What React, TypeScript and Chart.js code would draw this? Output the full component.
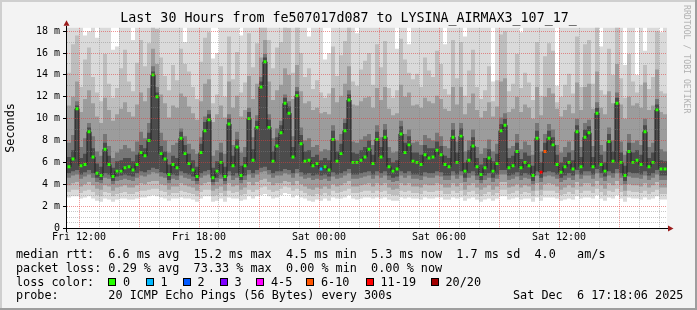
import React, { useEffect, useRef } from 'react';
import { Chart, registerables } from 'chart.js';

Chart.register(...registerables);

const FONT = '"DejaVu Sans Mono", "Liberation Mono", monospace';

const TITLE = 'Last 30 Hours from fe507017d087 to LYSINA_AIRMAX3_107_17_';
const Y_TITLE = 'Seconds';

// time axis: hours since the left edge of the plot (Fri 11:24)
const STEP_HOURS = 0.2;
const X_MIN = 0;
const X_MAX = 30;
const X_GRID_HOURS = [0.6, 1.6, 2.6, 3.6, 4.6, 5.6, 6.6, 7.6, 8.6, 9.6, 10.6, 11.6, 12.6, 13.6, 14.6, 15.6, 16.6, 17.6, 18.6, 19.6, 20.6, 21.6, 22.6, 23.6, 24.6, 25.6, 26.6, 27.6, 28.6, 29.6];
const X_LABEL_TEXT = ['Fri 12:00', 'Fri 18:00', 'Sat 00:00', 'Sat 06:00', 'Sat 12:00'];

// value axis (milliseconds)
const Y_MAX = 18.3;
const Y_GRID = [0, 0.5, 1, 1.5, 2, 3, 4, 5, 6, 7, 8, 9, 10, 11, 12, 13, 14, 15, 16, 17, 18];
const Y_LABEL_VALUES = [0, 2, 4, 6, 8, 10, 12, 14, 16, 18];
const Y_LABEL_TEXT = ['0', '2 m', '4 m', '6 m', '8 m', '10 m', '12 m', '14 m', '16 m', '18 m'];

// median rtt per 12-minute column (ms)
const MEDIAN = [
  5.6, 6.3, 10.9, 5.7, 5.8, 8.8, 6.5, 5.0, 4.8, 7.2, 5.8, 4.7, 5.2, 5.2, 5.5, 5.6, 5.3, 5.8, 6.9, 6.6, 8.0, 14.0, 12.0, 6.8, 6.3,
  4.9, 5.8, 5.5, 8.2, 6.8, 5.9, 5.3, 4.7, 6.9, 8.9, 9.9, 4.6, 5.2, 6.0, 4.7, 9.5, 5.7, 7.4, 4.8, 5.7, 10.0, 6.2, 9.2, 12.9, 15.2,
  9.2, 6.1, 7.5, 8.7, 11.4, 10.5, 6.5, 12.1, 7.7, 6.1, 6.2, 5.7, 5.9, 5.4, 5.6, 5.3, 8.1, 6.1, 6.8, 8.9, 11.7, 6.0, 6.0, 6.2, 6.5,
  7.2, 5.9, 8.1, 6.5, 8.3, 5.6, 5.2, 5.4, 8.6, 6.9, 7.6, 6.1, 6.0, 5.8, 6.7, 6.4, 6.5, 7.1, 6.7, 5.8, 5.6, 8.3, 6.0, 8.4, 5.2,
  6.2, 7.5, 5.6, 4.9, 5.5, 6.4, 5.2, 5.9, 8.9, 9.4, 5.5, 5.7, 7.0, 5.5, 6.0, 5.7, 4.8, 8.2, 5.1, 7.0, 8.2, 7.6, 5.8, 5.1, 5.6,
  6.0, 5.4, 8.8, 5.6, 8.3, 8.7, 5.6, 10.5, 5.8, 5.2, 7.9, 6.1, 11.4, 6.0, 4.8, 7.0, 6.0, 6.2, 5.8, 8.8, 5.6, 6.0, 10.8, 5.4, 5.4,
];

// smoke: spread of the 20 pings per column, outermost to innermost
const SMOKE_MAX = [
  18.5, 18.5, 18.5, 18.5, 17.6, 18.0, 18.5, 17.4, 18.5, 18.5, 18.5, 16.3, 16.6, 18.5, 18.5, 18.5, 17.2, 18.5, 18.5, 18.5, 18.5, 18.5, 18.5, 18.5, 18.5,
  18.5, 18.5, 18.5, 18.5, 17.0, 18.5, 18.5, 18.5, 18.5, 18.5, 18.5, 15.5, 16.0, 18.5, 18.5, 18.5, 18.5, 18.5, 17.6, 18.5, 18.5, 18.5, 18.5, 18.5, 18.5,
  18.5, 18.5, 18.5, 18.5, 18.5, 18.5, 18.5, 18.5, 18.5, 18.5, 17.5, 18.5, 18.5, 18.5, 15.4, 16.0, 18.5, 18.5, 18.5, 18.5, 18.5, 18.5, 17.8, 18.5, 18.5,
  18.5, 18.5, 18.5, 18.5, 18.5, 18.5, 18.5, 16.4, 18.5, 18.5, 16.8, 18.5, 18.5, 18.5, 18.5, 18.5, 18.5, 18.5, 18.5, 16.8, 18.5, 18.5, 18.5, 18.5, 17.5,
  18.5, 18.5, 18.5, 18.5, 18.5, 18.5, 13.4, 18.5, 18.5, 18.5, 18.5, 18.5, 18.5, 17.9, 18.5, 18.5, 18.5, 18.5, 18.5, 18.5, 18.5, 18.5, 13.0, 18.5, 18.5,
  18.5, 18.5, 18.5, 18.5, 18.5, 18.5, 18.5, 18.5, 16.6, 18.5, 18.5, 18.5, 18.5, 18.5, 14.9, 18.5, 18.5, 14.0, 18.5, 16.2, 18.5, 18.5, 18.5, 17.9, 18.5,
];
const SMOKE_HI2 = [
  14.2, 16.8, 17.6, 12.9, 15.4, 16.5, 13.8, 12.4, 11.6, 15.9, 13.2, 11.9, 12.8, 14.6, 16.3, 13.4, 12.5, 15.1, 17.2, 14.8, 16.9, 18.5, 18.2, 15.6, 13.9,
  12.6, 14.9, 13.5, 16.4, 15.0, 14.3, 12.9, 11.8, 15.2, 17.4, 17.9, 11.4, 12.2, 14.8, 12.0, 17.5, 13.6, 16.1, 12.4, 13.3, 17.8, 14.7, 16.9, 18.5, 18.5,
  17.2, 14.6, 16.5, 17.0, 18.5, 18.3, 14.2, 18.5, 16.0, 13.8, 14.6, 12.7, 13.5, 12.4, 11.9, 12.3, 16.6, 13.9, 15.8, 17.1, 18.5, 13.4, 13.0, 14.5, 15.3,
  16.0, 13.1, 16.8, 14.7, 17.1, 12.8, 11.9, 12.6, 17.3, 15.4, 14.2, 13.6, 14.1, 12.9, 15.6, 14.4, 13.8, 16.2, 15.0, 12.7, 12.2, 17.2, 13.7, 17.0, 12.1,
  14.4, 16.3, 12.9, 11.8, 12.6, 14.8, 11.6, 13.5, 17.7, 18.0, 12.5, 13.2, 15.9, 12.8, 14.2, 13.3, 11.7, 17.0, 12.1, 15.7, 16.9, 16.2, 11.5, 12.0, 13.1,
  14.1, 12.3, 17.5, 12.9, 16.8, 17.2, 13.2, 18.4, 12.6, 12.2, 16.4, 14.0, 18.5, 13.7, 11.9, 15.9, 13.4, 12.4, 13.1, 14.9, 12.7, 13.8, 18.0, 12.5, 12.3,
];
const SMOKE_HI3 = [
  11.2, 12.0, 13.4, 10.6, 11.8, 12.6, 11.4, 10.2, 9.6, 11.9, 10.8, 9.8, 10.4, 10.9, 11.5, 10.6, 10.2, 11.3, 12.4, 11.6, 12.8, 16.4, 15.0, 12.2, 11.4,
  10.1, 11.2, 11.0, 12.3, 12.0, 11.1, 10.5, 9.9, 11.6, 13.2, 13.6, 9.7, 10.4, 11.2, 10.1, 13.4, 11.0, 12.1, 10.2, 10.8, 13.9, 11.8, 13.2, 15.6, 17.2,
  13.4, 11.7, 12.6, 13.1, 14.6, 14.0, 11.8, 14.9, 12.5, 11.4, 11.6, 10.8, 11.0, 10.5, 10.6, 10.4, 12.8, 11.5, 12.1, 13.2, 14.8, 11.3, 11.2, 11.6, 11.9,
  12.0, 11.0, 12.8, 11.7, 12.9, 10.9, 10.3, 10.5, 13.1, 12.0, 12.4, 11.2, 11.3, 11.0, 11.9, 11.6, 11.4, 12.1, 11.8, 10.9, 10.7, 12.9, 11.3, 12.9, 10.4,
  11.4, 12.3, 10.8, 10.1, 10.7, 11.5, 10.2, 11.1, 13.4, 13.7, 10.6, 10.9, 12.0, 10.6, 11.3, 11.0, 10.0, 12.9, 10.3, 12.0, 12.8, 12.3, 10.9, 10.2, 10.8,
  11.3, 10.5, 13.3, 10.8, 12.9, 13.2, 10.9, 14.3, 11.0, 10.4, 12.5, 11.4, 15.0, 11.3, 10.0, 12.0, 11.2, 11.4, 11.0, 13.3, 10.8, 11.2, 14.5, 10.6, 10.4,
];
const SMOKE_HI4 = [
  7.8, 8.5, 11.6, 7.4, 8.2, 9.6, 8.4, 7.0, 6.6, 8.6, 7.5, 6.4, 6.9, 7.2, 7.6, 7.3, 7.0, 7.9, 8.8, 8.2, 9.6, 14.8, 12.9, 8.7, 8.0,
  6.9, 7.6, 7.8, 9.1, 8.4, 7.7, 7.2, 6.8, 8.3, 10.2, 10.8, 6.6, 7.1, 7.8, 6.8, 10.4, 7.6, 8.8, 6.9, 7.4, 11.0, 8.3, 10.3, 13.8, 15.9,
  10.4, 8.2, 9.1, 9.8, 12.2, 11.6, 8.4, 12.9, 9.2, 8.0, 8.2, 7.4, 7.6, 7.0, 7.2, 7.1, 9.4, 8.0, 8.6, 10.0, 12.6, 7.9, 7.8, 8.1, 8.4,
  8.6, 7.6, 9.4, 8.3, 9.5, 7.4, 6.9, 7.0, 9.8, 8.6, 9.0, 7.8, 7.9, 7.6, 8.5, 8.2, 8.0, 8.7, 8.4, 7.5, 7.3, 9.6, 7.9, 9.6, 7.0,
  8.0, 9.0, 7.4, 6.8, 7.3, 8.1, 7.0, 7.7, 10.1, 10.5, 7.3, 7.5, 8.6, 7.2, 7.9, 7.6, 6.7, 9.6, 7.0, 8.6, 9.5, 9.0, 7.6, 6.9, 7.4,
  7.9, 7.1, 10.0, 7.4, 9.6, 9.9, 7.5, 11.5, 7.6, 7.0, 9.2, 8.0, 12.4, 7.9, 6.7, 8.6, 7.8, 8.0, 7.6, 10.0, 7.4, 7.8, 11.8, 7.2, 7.0,
];
const SMOKE_HI5 = [
  6.5, 7.1, 11.2, 6.4, 6.8, 9.2, 7.3, 5.9, 5.6, 7.8, 6.6, 5.5, 6.1, 6.2, 6.4, 6.4, 6.1, 6.7, 7.6, 7.3, 8.7, 14.3, 12.4, 7.5, 7.0,
  5.8, 6.6, 6.4, 8.8, 7.6, 6.8, 6.2, 5.6, 7.7, 9.7, 10.4, 5.5, 6.1, 6.9, 5.6, 10.0, 6.6, 8.1, 5.7, 6.5, 10.6, 7.2, 9.8, 13.4, 15.6,
  9.9, 7.0, 8.3, 9.4, 11.9, 11.1, 7.4, 12.5, 8.5, 7.0, 7.1, 6.5, 6.7, 6.2, 6.4, 6.2, 8.9, 7.0, 7.7, 9.6, 12.2, 6.9, 6.8, 7.1, 7.4,
  8.0, 6.7, 8.8, 7.4, 9.0, 6.4, 6.0, 6.2, 9.3, 7.8, 8.4, 6.9, 6.9, 6.7, 7.6, 7.3, 7.3, 7.9, 7.5, 6.6, 6.4, 9.0, 6.9, 9.1, 6.0,
  7.1, 8.3, 6.4, 5.8, 6.4, 7.2, 6.1, 6.8, 9.5, 10.0, 6.4, 6.6, 7.8, 6.3, 6.9, 6.6, 5.7, 8.9, 6.0, 7.8, 8.9, 8.3, 6.7, 6.0, 6.5,
  6.9, 6.2, 9.4, 6.5, 9.0, 9.3, 6.5, 11.0, 6.7, 6.0, 8.6, 7.0, 11.9, 6.9, 5.7, 7.8, 6.9, 7.1, 6.7, 9.4, 6.4, 6.9, 11.3, 6.2, 6.1,
];
const SMOKE_LO5 = [
  5.0, 5.2, 5.3, 4.9, 5.1, 5.3, 5.0, 4.6, 4.4, 5.0, 4.9, 4.3, 4.7, 4.8, 4.9, 4.8, 4.7, 5.0, 5.2, 5.1, 5.3, 5.5, 5.4, 5.1, 5.0,
  4.4, 4.9, 4.8, 5.2, 5.0, 4.9, 4.7, 4.3, 5.0, 5.2, 5.3, 4.2, 4.6, 4.9, 4.3, 5.2, 4.8, 5.0, 4.4, 4.8, 5.3, 5.0, 5.3, 5.5, 5.6,
  5.3, 5.0, 5.2, 5.2, 5.4, 5.3, 5.0, 5.4, 5.1, 4.9, 5.0, 4.8, 4.9, 4.8, 4.9, 4.7, 5.1, 4.9, 5.0, 5.2, 5.4, 4.9, 4.9, 5.0, 5.1,
  5.2, 4.9, 5.2, 5.0, 5.2, 4.8, 4.6, 4.7, 5.2, 5.0, 5.2, 4.9, 4.9, 4.8, 5.1, 5.0, 5.0, 5.2, 5.1, 4.8, 4.8, 5.2, 4.9, 5.2, 4.6,
  5.0, 5.2, 4.8, 4.4, 4.8, 5.0, 4.6, 4.9, 5.3, 5.3, 4.8, 4.9, 5.1, 4.8, 5.0, 4.9, 4.3, 5.2, 4.6, 5.1, 5.2, 5.1, 4.9, 4.6, 4.8,
  5.0, 4.8, 5.3, 4.9, 5.2, 5.2, 4.9, 5.4, 5.0, 4.7, 5.2, 5.0, 5.4, 5.0, 4.3, 5.1, 5.0, 5.0, 4.9, 5.2, 4.8, 5.0, 5.3, 4.8, 4.8,
];
const SMOKE_LO4 = [
  4.6, 4.8, 4.9, 4.5, 4.7, 4.9, 4.6, 4.2, 4.1, 4.6, 4.5, 4.0, 4.3, 4.4, 4.5, 4.4, 4.3, 4.6, 4.8, 4.7, 4.9, 5.1, 5.0, 4.7, 4.6,
  4.1, 4.5, 4.4, 4.8, 4.6, 4.5, 4.3, 4.0, 4.6, 4.8, 4.9, 3.9, 4.2, 4.5, 4.0, 4.8, 4.4, 4.6, 4.1, 4.4, 4.9, 4.6, 4.9, 5.1, 5.2,
  4.9, 4.6, 4.8, 4.8, 5.0, 4.9, 4.6, 5.0, 4.7, 4.5, 4.6, 4.4, 4.5, 4.4, 4.5, 4.3, 4.7, 4.5, 4.6, 4.8, 5.0, 4.5, 4.5, 4.6, 4.7,
  4.8, 4.5, 4.8, 4.6, 4.8, 4.4, 4.2, 4.3, 4.8, 4.6, 4.8, 4.5, 4.5, 4.4, 4.7, 4.6, 4.6, 4.8, 4.7, 4.4, 4.4, 4.8, 4.5, 4.8, 4.2,
  4.6, 4.8, 4.4, 4.1, 4.4, 4.6, 4.2, 4.5, 4.9, 4.9, 4.4, 4.5, 4.7, 4.4, 4.6, 4.5, 4.0, 4.8, 4.2, 4.7, 4.8, 4.7, 4.5, 4.2, 4.4,
  4.6, 4.4, 4.9, 4.5, 4.8, 4.8, 4.5, 5.0, 4.6, 4.3, 4.8, 4.6, 5.0, 4.6, 4.0, 4.7, 4.6, 4.6, 4.5, 4.8, 4.4, 4.6, 4.9, 4.4, 4.4,
];
const SMOKE_LO3 = [
  3.9, 4.1, 4.2, 3.8, 4.0, 4.2, 3.9, 3.6, 3.5, 3.9, 3.8, 3.4, 3.7, 3.8, 3.9, 3.7, 3.7, 3.9, 4.1, 4.0, 4.2, 4.3, 4.3, 4.0, 3.9,
  3.5, 3.8, 3.8, 4.1, 3.9, 3.8, 3.7, 3.4, 3.9, 4.1, 4.2, 3.4, 3.6, 3.8, 3.4, 4.1, 3.8, 3.9, 3.5, 3.7, 4.2, 3.9, 4.2, 4.4, 4.5,
  4.2, 3.9, 4.1, 4.1, 4.3, 4.2, 3.9, 4.3, 4.0, 3.8, 3.6, 3.5, 3.7, 3.6, 3.8, 3.6, 4.0, 3.8, 3.9, 4.1, 4.3, 3.8, 3.8, 3.9, 4.0,
  4.1, 3.8, 4.1, 3.9, 4.1, 3.7, 3.5, 3.6, 4.1, 3.9, 4.1, 3.8, 3.8, 3.7, 4.0, 3.9, 3.9, 4.1, 4.0, 3.7, 3.7, 4.1, 3.8, 4.1, 3.5,
  3.9, 4.1, 3.7, 3.5, 3.7, 3.9, 3.5, 3.8, 4.2, 4.2, 3.7, 3.8, 4.0, 3.7, 3.9, 3.8, 3.4, 4.1, 3.5, 4.0, 4.1, 4.0, 3.8, 3.5, 3.7,
  3.9, 3.7, 4.2, 3.8, 4.1, 4.1, 3.8, 4.3, 3.9, 3.6, 4.1, 3.9, 4.3, 3.9, 3.4, 4.0, 3.9, 3.9, 3.8, 4.1, 3.7, 3.9, 4.2, 3.7, 3.7,
];
const SMOKE_LO2 = [
  3.3, 3.5, 3.5, 3.2, 3.4, 3.5, 3.3, 3.0, 2.9, 3.3, 3.2, 2.9, 3.1, 3.2, 3.3, 3.1, 3.1, 3.3, 3.4, 3.4, 3.5, 3.6, 3.6, 3.4, 3.3,
  3.0, 3.2, 3.2, 3.4, 3.3, 3.2, 3.1, 2.9, 3.3, 3.5, 3.5, 2.9, 3.0, 3.2, 2.9, 3.4, 3.2, 3.3, 3.0, 3.1, 3.5, 3.3, 3.5, 3.7, 3.8,
  3.5, 3.3, 3.4, 3.6, 3.8, 3.7, 3.4, 3.6, 3.4, 3.2, 3.0, 2.9, 3.1, 3.0, 3.2, 3.0, 3.4, 3.2, 3.3, 3.4, 3.6, 3.2, 3.2, 3.3, 3.4,
  3.4, 3.2, 3.4, 3.3, 3.4, 3.1, 3.0, 3.0, 3.4, 3.3, 3.4, 3.2, 3.2, 3.1, 3.4, 3.3, 3.3, 3.4, 3.4, 3.1, 3.1, 3.4, 3.2, 3.4, 3.0,
  3.3, 3.4, 3.1, 2.9, 3.1, 3.3, 3.0, 3.2, 3.5, 3.5, 3.1, 3.2, 3.4, 3.1, 3.3, 3.2, 2.9, 3.4, 3.0, 3.4, 3.4, 3.4, 3.2, 3.0, 3.1,
  3.3, 3.1, 3.5, 3.2, 3.4, 3.4, 3.2, 3.6, 3.3, 3.0, 3.4, 3.3, 3.6, 3.3, 2.9, 3.4, 3.3, 3.3, 3.2, 3.4, 3.1, 3.3, 3.5, 3.1, 3.1,
];
const SMOKE_MIN = [
  2.8, 2.9, 2.9, 2.7, 2.8, 2.9, 2.7, 2.5, 2.4, 2.7, 2.6, 2.4, 2.6, 2.7, 2.7, 2.6, 2.6, 2.7, 2.8, 2.8, 2.9, 3.0, 2.9, 2.8, 2.7,
  2.5, 2.7, 2.7, 2.8, 2.7, 2.7, 2.6, 2.4, 2.7, 2.9, 2.9, 2.4, 2.5, 2.7, 2.4, 2.8, 2.7, 2.7, 2.5, 2.6, 2.9, 2.7, 2.9, 3.0, 3.1,
  2.9, 2.7, 2.8, 3.0, 3.2, 3.1, 2.8, 3.0, 2.8, 2.7, 2.5, 2.4, 2.6, 2.5, 2.7, 2.5, 2.8, 2.7, 2.7, 2.8, 3.0, 2.7, 2.6, 2.7, 2.8,
  2.8, 2.7, 2.8, 2.7, 2.8, 2.6, 2.5, 2.5, 2.8, 2.7, 2.8, 2.7, 2.7, 2.6, 2.8, 2.7, 2.7, 2.8, 2.8, 2.6, 2.6, 2.8, 2.7, 2.8, 2.5,
  2.7, 2.8, 2.6, 2.4, 2.6, 2.7, 2.5, 2.7, 2.9, 2.9, 2.6, 2.7, 2.8, 2.6, 2.7, 2.7, 2.4, 2.8, 2.5, 2.8, 2.8, 2.8, 2.7, 2.5, 2.6,
  2.7, 2.6, 2.9, 2.7, 2.8, 2.8, 2.7, 3.0, 2.7, 2.5, 2.8, 2.7, 3.0, 2.7, 2.4, 2.8, 2.7, 2.7, 2.6, 2.8, 2.6, 2.7, 2.9, 2.6, 2.6,
];

// columns with packet loss (column index, pings lost of 20)
const LOSS_AT = [63, 118, 119];
const LOSS_PINGS = [1, 12, 7];

const LOSS_LABELS = ['0', '1', '2', '3', '4-5', '6-10', '11-19', '20/20'];
const LOSS_MIN_PINGS = [0, 1, 2, 3, 4, 6, 11, 20];
const LOSS_COLORS = ['#26ff00', '#00b8ff', '#0059ff', '#7e00ff', '#ff00ff', '#ff5500', '#ff0000', '#a10000'];

const RTT_ROW = 'median rtt:  6.6 ms avg  15.2 ms max  4.5 ms min  5.3 ms now  1.7 ms sd  4.0   am/s';
const LOSS_ROW = 'packet loss: 0.29 % avg  73.33 % max  0.00 % min  0.00 % now';
const LOSS_COLOR_LABEL = 'loss color:';
const PROBE_ROW = 'probe:       20 ICMP Echo Pings (56 Bytes) every 300s';
const DATE_TEXT = 'Sat Dec  6 17:18:06 2025';
const WATERMARK = 'RRDTOOL / TOBI OETIKER';

// layout (pixels)
const W = 697;
const H = 310;
const LOSS_BOX_X = [108, 145.5, 182.5, 219.5, 256, 306, 365.5, 430.5];
const ROW_TOP = [247.2, 260.8, 274.5, 288.2];

const BAND_COLORS = ['#dadada', '#bebebe', '#9c9c9c', '#767676', '#4c4c4c'];
const MAJOR_GRID = 'rgba(225, 60, 60, 0.55)';
const MINOR_GRID = 'rgba(130, 130, 130, 0.45)';

function lossColor(p: number): string {
  let k = 0;
  for (let i = 0; i < LOSS_MIN_PINGS.length; i++) if (p >= LOSS_MIN_PINGS[i]) k = i;
  return LOSS_COLORS[k];
}

const chromePlugin = {
  id: 'rrdChrome',
  beforeDraw(chart: any) {
    const { ctx, chartArea: a, width, height } = chart;
    ctx.save();
    ctx.fillStyle = '#f3f3f3';
    ctx.fillRect(0, 0, width, height);
    ctx.fillStyle = '#ffffff';
    ctx.fillRect(a.left, a.top, a.right - a.left, a.bottom - a.top);
    ctx.restore();
  },
  afterDraw(chart: any) {
    const { ctx, chartArea: a, width, height } = chart;
    ctx.save();
    ctx.strokeStyle = '#000';
    ctx.lineWidth = 1;
    ctx.beginPath();
    ctx.moveTo(a.left - 4, a.bottom + 0.5);
    ctx.lineTo(a.right + 2, a.bottom + 0.5);
    ctx.moveTo(a.left - 0.5, a.bottom + 4);
    ctx.lineTo(a.left - 0.5, a.top - 2);
    ctx.stroke();
    ctx.fillStyle = '#9b1c1c';
    ctx.beginPath();
    ctx.moveTo(a.right + 1, a.bottom - 2.5);
    ctx.lineTo(a.right + 6.5, a.bottom + 0.5);
    ctx.lineTo(a.right + 1, a.bottom + 3.5);
    ctx.closePath();
    ctx.fill();
    ctx.beginPath();
    ctx.moveTo(a.left - 3.5, a.top - 2);
    ctx.lineTo(a.left - 0.5, a.top - 7.5);
    ctx.lineTo(a.left + 2.5, a.top - 2);
    ctx.closePath();
    ctx.fill();
    ctx.fillStyle = '#cfcfcf';
    ctx.fillRect(0, 0, width, 2);
    ctx.fillRect(0, 0, 2, height);
    ctx.fillStyle = '#9e9e9e';
    ctx.fillRect(0, height - 2, width, 2);
    ctx.fillRect(width - 2, 0, 2, height);
    ctx.restore();
  },
};

export default function App() {
  const ref = useRef<HTMLCanvasElement>(null);

  useEffect(() => {
    document.body.style.margin = '0';
    const xs = MEDIAN.map((_, i) => (i + 0.5) * STEP_HOURS);
    const band = (lo: number[], hi: number[], color: string, order: number) => ({
      type: 'bar',
      data: xs.map((x, i) => ({ x, y: [lo[i], hi[i]] })),
      backgroundColor: color,
      borderWidth: 0,
      grouped: false,
      barPercentage: 1,
      categoryPercentage: 1,
      inflateAmount: 0,
      order,
      clip: 0,
    });
    const dotColors = MEDIAN.map((_, i) => {
      const k = LOSS_AT.indexOf(i);
      return lossColor(k >= 0 ? LOSS_PINGS[k] : 0);
    });
    const medianPoints = xs.map((x, i) => ({ x, y: MEDIAN[i] }));

    const chart = new Chart(ref.current as HTMLCanvasElement, {
      type: 'bar',
      data: {
        datasets: [
          {
            type: 'line',
            data: medianPoints,
            showLine: false,
            pointStyle: 'rect',
            pointRadius: 2.1,
            pointBorderWidth: 0,
            pointBackgroundColor: dotColors,
            pointBorderColor: dotColors,
            order: 0,
            clip: 0,
          },
          {
            type: 'line',
            data: medianPoints,
            borderColor: '#1e1e1e',
            borderWidth: 1,
            stepped: 'middle',
            pointRadius: 0,
            fill: false,
            order: 1,
            clip: 0,
          },
          band(SMOKE_LO5, SMOKE_HI5, BAND_COLORS[4], 2),
          band(SMOKE_LO4, SMOKE_HI4, BAND_COLORS[3], 3),
          band(SMOKE_LO3, SMOKE_HI3, BAND_COLORS[2], 4),
          band(SMOKE_LO2, SMOKE_HI2, BAND_COLORS[1], 5),
          band(SMOKE_MIN, SMOKE_MAX, BAND_COLORS[0], 6),
        ] as any,
      },
      options: {
        responsive: false,
        devicePixelRatio: 1,
        animation: false,
        events: [],
        layout: { padding: 0 },
        plugins: {
          legend: { display: false },
          tooltip: { enabled: false },
          title: {
            display: true,
            text: TITLE,
            color: '#000',
            font: { family: FONT, size: 13.3, weight: 'normal' },
            padding: { top: 10.9, bottom: 1 },
          },
        },
        scales: {
          x: {
            type: 'linear',
            min: X_MIN,
            max: X_MAX,
            offset: false,
            grid: {
              offset: false,
              z: 1,
              drawTicks: false,
              lineWidth: 1,
              color: (c: any) => (c.index % 3 === 0 ? MAJOR_GRID : MINOR_GRID),
            },
            border: { display: false, dash: [1, 1] },
            ticks: {
              autoSkip: false,
              maxRotation: 0,
              minRotation: 0,
              padding: 3,
              color: '#000',
              font: { family: FONT, size: 10 },
              callback: (_v: any, i: number) => (i % 6 === 0 ? X_LABEL_TEXT[i / 6] : ''),
            },
            afterBuildTicks: (s: any) => {
              s.ticks = X_GRID_HOURS.map((v) => ({ value: v }));
            },
            afterFit: (s: any) => {
              s.height = 82;
            },
          },
          y: {
            type: 'linear',
            min: 0,
            max: Y_MAX,
            grid: {
              z: 1,
              drawTicks: true,
              tickLength: 4,
              lineWidth: 1,
              color: (c: any) => (Y_LABEL_VALUES.indexOf(c.tick && c.tick.value) >= 0 ? MAJOR_GRID : MINOR_GRID),
              tickColor: (c: any) => (Y_LABEL_VALUES.indexOf(c.tick && c.tick.value) >= 0 ? '#000' : 'rgba(0,0,0,0)'),
            },
            border: { display: false, dash: [1, 1] },
            ticks: {
              autoSkip: false,
              padding: 3,
              color: '#000',
              font: { family: FONT, size: 10 },
              callback: (v: any) => {
                const k = Y_LABEL_VALUES.indexOf(v);
                return k >= 0 ? Y_LABEL_TEXT[k] : '';
              },
            },
            afterBuildTicks: (s: any) => {
              s.ticks = Y_GRID.map((v) => ({ value: v }));
            },
            afterFit: (s: any) => {
              s.width = 67;
            },
            title: {
              display: true,
              text: Y_TITLE,
              color: '#000',
              font: { family: FONT, size: 11.8 },
              padding: { top: 4, bottom: 0 },
            },
          },
          yR: {
            type: 'linear',
            position: 'right',
            display: true,
            grid: { display: false, drawTicks: false },
            border: { display: false },
            ticks: { display: false },
            afterFit: (s: any) => {
              s.width = 30;
            },
          },
        },
      } as any,
      plugins: [chromePlugin],
    });
    return () => chart.destroy();
  }, []);

  const text: React.CSSProperties = {
    position: 'absolute',
    fontFamily: FONT,
    fontSize: 11.8,
    lineHeight: '14px',
    whiteSpace: 'pre',
    color: '#000',
  };

  return (
    <div style={{ position: 'absolute', left: 0, top: 0, width: W, height: H, overflow: 'hidden' }}>
      <canvas ref={ref} width={W} height={H} style={{ position: 'absolute', left: 0, top: 0, width: W, height: H }} />
      <div style={{ ...text, left: 16, top: ROW_TOP[0] }}>{RTT_ROW}</div>
      <div style={{ ...text, left: 16, top: ROW_TOP[1] }}>{LOSS_ROW}</div>
      <div style={{ ...text, left: 16, top: ROW_TOP[2] }}>{LOSS_COLOR_LABEL}</div>
      {LOSS_LABELS.map((lab, i) => (
        <React.Fragment key={lab}>
          <div
            style={{
              position: 'absolute',
              left: LOSS_BOX_X[i],
              top: 277.5,
              width: 8,
              height: 8,
              boxSizing: 'border-box',
              border: '1px solid #000',
              background: LOSS_COLORS[i],
            }}
          />
          <div style={{ ...text, left: LOSS_BOX_X[i] + 15, top: ROW_TOP[2] }}>{lab}</div>
        </React.Fragment>
      ))}
      <div style={{ ...text, left: 16, top: ROW_TOP[3] }}>{PROBE_ROW}</div>
      <div style={{ ...text, left: 513, top: ROW_TOP[3] }}>{DATE_TEXT}</div>
      <div
        style={{
          position: 'absolute',
          left: 692,
          top: 5,
          transformOrigin: '0 0',
          transform: 'rotate(90deg)',
          fontFamily: FONT,
          fontSize: 8.2,
          lineHeight: '10px',
          whiteSpace: 'pre',
          color: '#b0b0b0',
        }}
      >
        {WATERMARK}
      </div>
    </div>
  );
}
